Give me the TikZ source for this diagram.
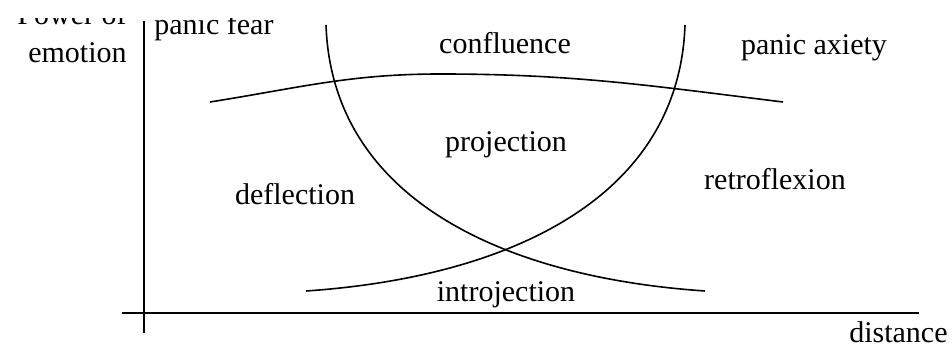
\documentclass[tikz,border=0pt]{standalone}
\usepackage{fontspec}
\setmainfont{Liberation Serif}
\tikzset{
  lbl/.style={font=\fontsize{15}{18}\selectfont, inner sep=0pt, anchor=base},
  axis/.style={line width=1pt, black},
  curve/.style={line width=0.8pt, black}
}
\begin{document}
\begin{tikzpicture}[x=0.5pt, y=0.5pt]
  \useasboundingbox (0,0) rectangle (952,347);
  \begin{scope}
  \clip (0,0) rectangle (952,328);

  % Axes
  \coordinate (ytop) at (144,326);
  \coordinate (ybot) at (144,14);
  \coordinate (xleft) at (122,34);
  \coordinate (xright) at (919,34);
  \draw[axis] (ybot) -- (ytop);
  \draw[axis] (xleft) -- (xright);

  % Two crossing curves
  \draw[curve] (326,322) .. controls (332,150) and (500,70) .. (705,56);
  \draw[curve] (685,322) .. controls (679,150) and (511,70) .. (306,56);

  % Flat arc across the top
  \draw[curve] (210,245) to[out=9, in=180] (440,273) to[out=0, in=173] (783,245);

  % Axis labels
  \node[lbl, anchor=base east] (power) at (127,322) {Power of};
  \node[lbl, anchor=base east] (emotion) at (127,284) {emotion};
  \node[lbl, anchor=base east] (distance) at (948,4) {distance};

  % Region labels
  \node[lbl, anchor=base west] (fear) at (154,312) {panic fear};
  \node[lbl] (confluence) at (505,293) {confluence};
  \node[lbl] (anxiety) at (814,292) {panic axiety};
  \node[lbl] (projection) at (506,195) {projection};
  \node[lbl] (deflection) at (295,142) {deflection};
  \node[lbl] (retroflexion) at (775,157) {retroflexion};
  \node[lbl] (introjection) at (506,45) {introjection};
  \end{scope}
\end{tikzpicture}
\end{document}
